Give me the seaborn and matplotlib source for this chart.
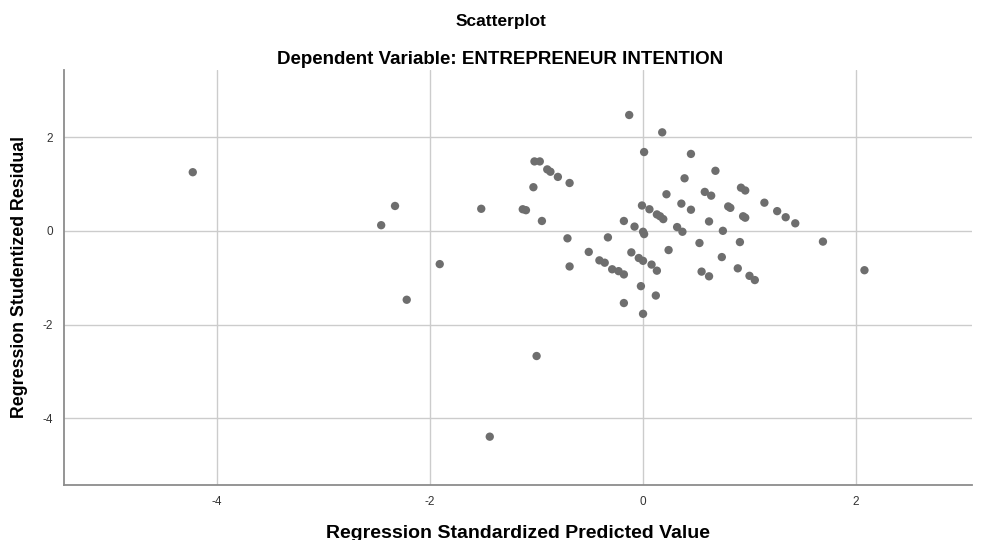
import matplotlib
matplotlib.use('Agg')
import matplotlib.pyplot as plt
import seaborn as sns
import pandas as pd

# standardized predicted values / studentized residuals
pred = [-4.23, -2.46, -2.33, -2.22, -1.91, -1.52, -1.44, -1.13, -1.10, -1.03,
        -1.02, -0.97, -1.00, -0.95, -0.90, -0.87, -0.80, -0.71, -0.69, -0.69,
        -0.51, -0.41, -0.36, -0.33, -0.29, -0.23, -0.18, -0.18, -0.18, -0.13,
        -0.11, -0.08, -0.04, -0.02, -0.01, 0.00, 0.01, 0.00, 0.00, 0.01,
        0.06, 0.08, 0.12, 0.13, 0.13, 0.16, 0.18, 0.19, 0.22, 0.24,
        0.32, 0.36, 0.37, 0.39, 0.45, 0.45, 0.53, 0.55, 0.58, 0.62,
        0.62, 0.64, 0.68, 0.74, 0.75, 0.80, 0.82, 0.89, 0.91, 0.92,
        0.94, 0.96, 0.96, 1.00, 1.05, 1.14, 1.26, 1.34, 1.43, 1.69, 2.08]
resid = [1.25, 0.12, 0.53, -1.47, -0.71, 0.47, -4.39, 0.46, 0.44, 0.93,
         1.48, 1.48, -2.67, 0.21, 1.31, 1.26, 1.15, -0.16, 1.02, -0.76,
         -0.45, -0.63, -0.68, -0.14, -0.82, -0.86, -0.93, 0.21, -1.54, 2.47,
         -0.46, 0.09, -0.58, -1.18, 0.54, -0.02, -0.07, -0.64, -1.77, 1.68,
         0.46, -0.72, -1.38, 0.35, -0.85, 0.31, 2.10, 0.25, 0.78, -0.41,
         0.08, 0.58, -0.02, 1.12, 1.64, 0.45, -0.26, -0.87, 0.83, 0.20,
         -0.97, 0.75, 1.28, -0.56, 0.00, 0.52, 0.49, -0.80, -0.24, 0.92,
         0.31, 0.28, 0.86, -0.96, -1.05, 0.60, 0.42, 0.29, 0.16, -0.23, -0.84]
xticks = [-4, -2, 0, 2]
yticks = [-4, -2, 0, 2]

df = pd.DataFrame({'pred': pred, 'resid': resid})

sns.set_style('white')
plt.rcParams['font.family'] = ['Liberation Sans', 'DejaVu Sans']
plt.rcParams['axes.unicode_minus'] = False

fig = plt.figure(figsize=(10.01, 5.40), dpi=100)
ax = fig.add_axes([0.0639, 0.1019, 0.9071, 0.7685])

sns.scatterplot(data=df, x='pred', y='resid', ax=ax, color='#6e6e6e',
                s=36, edgecolor='none', zorder=3)

ax.set_xlim(-5.44, 3.09)
ax.set_ylim(-5.42, 3.43)
ax.set_xticks(xticks)
ax.set_yticks(yticks)
ax.grid(True, color='#cccccc', linewidth=1.0, zorder=0)
ax.set_axisbelow(True)

for side in ['top', 'right']:
    ax.spines[side].set_visible(False)
for side in ['left', 'bottom']:
    ax.spines[side].set_color('#8c8c8c')
    ax.spines[side].set_linewidth(1.3)

ax.tick_params(axis='both', length=0, labelsize=8.5, colors='#333333', pad=8)

ax.set_xlabel('Regression Standardized Predicted Value', fontsize=14,
              fontweight='bold', va='baseline', color='black')
ax.xaxis.set_label_coords(0.5, -0.127)
ax.set_ylabel('Regression Studentized Residual', fontsize=12.8,
              fontweight='bold', va='center', color='black')
ax.yaxis.set_label_coords(-0.049, 0.5)

fig.text(0.5, 1 - 25.7 / 540, 'Scatterplot', ha='center', va='baseline',
         fontsize=12.5, fontweight='bold', color='black')
fig.text(0.5, 1 - 64 / 540, 'Dependent Variable: ENTREPRENEUR INTENTION',
         ha='center', va='baseline', fontsize=13.5, fontweight='bold',
         color='black')

plt.savefig('out.png', dpi=100)
plt.close()
